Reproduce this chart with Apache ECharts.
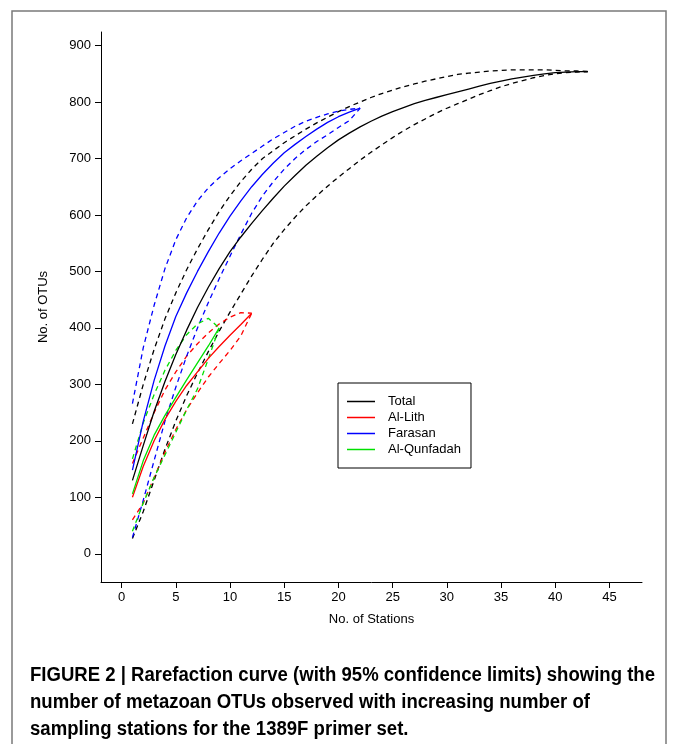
<!DOCTYPE html>
<html lang="en">

<head>
    <meta charset="UTF-8">
    <title>Rarefaction curve</title>
    <script src="https://cdn.jsdelivr.net/npm/echarts@6.0.0/dist/echarts.min.js"></script>
    <style>
        body {
            margin: 0;
            padding: 0;
            background: #fff;
        }

        #main {
            width: 673px;
            height: 744px;
        }
    </style>
</head>

<body>
    <div id="main"></div>

    <script>
        // tick labels
        var xTicks = [0, 5, 10, 15, 20, 25, 30, 35, 40, 45];
        var yTicks = [0, 100, 200, 300, 400, 500, 600, 700, 800, 900];

        // values, one per station starting at station 1
        var totalMean = [130, 192, 252, 305, 353, 396, 436, 472, 505, 535, 561, 585, 608, 630, 651, 670, 688, 704, 719, 733, 745, 756,
            766, 775, 783, 790, 797, 803, 808, 813, 818, 823, 828, 833, 837, 841, 844, 847, 850, 852, 853, 854, 854];
        var totalUpper = [230, 300, 362, 416, 462, 503, 540, 574, 606, 634, 659, 681, 700, 714, 728, 740, 752, 763, 773, 783, 792, 800,
            808, 815, 821, 827, 832, 837, 841, 845, 849, 851, 853, 855, 856, 857, 857, 857, 857, 856, 855, 855, 854];
        var totalLower = [27, 75, 130, 185, 235, 280, 320, 358, 394, 428, 460, 492, 522, 550, 574, 596, 616, 634, 651, 667, 682, 697,
            711, 724, 737, 749, 760, 770, 780, 789, 797, 805, 813, 820, 827, 833, 838, 843, 847, 850, 852, 853, 854];

        var lithMean = [100, 155, 200, 238, 270, 298, 322, 346, 367, 387, 406, 426];
        var lithUpper = [160, 205, 250, 290, 322, 350, 372, 391, 407, 419, 427, 426];
        var lithLower = [60, 90, 135, 180, 220, 255, 285, 313, 337, 360, 386, 426];

        var farasanMean = [148, 235, 307, 368, 420, 462, 500, 535, 568, 598, 625, 650, 672, 692, 710, 725, 739, 752, 764, 774, 782, 789];
        var farasanUpper = [266, 365, 440, 505, 556, 595, 625, 648, 666, 682, 696, 709, 722, 735, 746, 757, 766, 773, 779, 784, 787, 789];
        var farasanLower = [29, 95, 165, 235, 295, 350, 400, 445, 487, 527, 566, 603, 634, 659, 681, 700, 716, 730, 742, 755, 767, 789];

        var qunMean = [106, 165, 210, 245, 277, 308, 338, 368, 400];
        var qunUpper = [168, 232, 282, 325, 360, 388, 407, 417, 400];
        var qunLower = [40, 90, 135, 175, 215, 255, 292, 345, 400];

        var captionLines = [
            'FIGURE 2 | Rarefaction curve (with 95% confidence limits) showing the',
            'number of metazoan OTUs observed with increasing number of',
            'sampling stations for the 1389F primer set.'
        ];

        function toPoints(arr) {
            return arr.map(function (v, i) { return [i + 1, v]; });
        }

        function curve(name, color, values, dashed) {
            return {
                name: name,
                type: 'line',
                data: toPoints(values),
                symbol: 'none',
                silent: true,
                lineStyle: {
                    color: color,
                    width: 1.3,
                    type: dashed ? [5, 4] : 'solid'
                },
                itemStyle: { color: color }
            };
        }

        var groups = [
            ['Total', '#000000', totalMean, totalUpper, totalLower],
            ['Al-Lith', '#ff0000', lithMean, lithUpper, lithLower],
            ['Farasan', '#0000ff', farasanMean, farasanUpper, farasanLower],
            ['Al-Qunfadah', '#00e000', qunMean, qunUpper, qunLower]
        ];

        var series = [];
        groups.forEach(function (g) {
            series.push(curve(g[0] + ' upper', g[1], g[3], true));
            series.push(curve(g[0] + ' lower', g[1], g[4], true));
        });
        groups.forEach(function (g) {
            series.push(curve(g[0], g[1], g[2], false));
        });

        // caption is set in a condensed bold face, so squeeze a normal bold one to the same width
        var captionFont = "bold 20px 'Liberation Sans', Arial, sans-serif";
        var ctx = document.createElement('canvas').getContext('2d');
        ctx.font = captionFont;
        var squeeze = 625 / ctx.measureText(captionLines[0]).width;

        var graphics = [{
            type: 'rect',
            shape: { x: 12, y: 11, width: 654, height: 760 },
            style: { fill: 'none', stroke: '#7a7a7a', lineWidth: 1.5 },
            silent: true
        }];
        captionLines.forEach(function (t, i) {
            graphics.push({
                type: 'text',
                x: 30,
                y: 665 + i * 27,
                scaleX: squeeze,
                style: {
                    text: t,
                    fill: '#000',
                    font: captionFont,
                    verticalAlign: 'top'
                }
            });
        });

        var chartDom = document.getElementById('main');
        var myChart = echarts.init(chartDom, null, { renderer: 'canvas' });

        var axisFont = {
            color: '#000',
            fontSize: 13,
            fontFamily: "'Liberation Sans', Arial, sans-serif"
        };

        var option = {
            animation: false,
            backgroundColor: '#fff',
            grid: {
                left: 101,
                right: 31,
                top: 32,
                bottom: 162
            },
            legend: {
                data: groups.map(function (g) { return g[0]; }),
                orient: 'vertical',
                left: 338,
                top: 383,
                padding: [12, 10, 12, 9],
                icon: 'rect',
                itemWidth: 28,
                itemHeight: 1.5,
                itemGap: 3,
                borderColor: '#000',
                borderWidth: 1,
                selectedMode: false,
                textStyle: {
                    color: '#000',
                    fontSize: 13,
                    fontFamily: "'Liberation Sans', Arial, sans-serif",
                    padding: [0, 0, 0, 8]
                }
            },
            xAxis: {
                type: 'value',
                min: -1.9,
                max: 48,
                name: 'No. of Stations',
                nameLocation: 'middle',
                nameGap: 31,
                nameTextStyle: axisFont,
                axisLine: { show: true, onZero: false, lineStyle: { color: '#000', width: 1 } },
                axisTick: { show: true, length: 6, customValues: xTicks, lineStyle: { color: '#000' } },
                axisLabel: Object.assign({ margin: 9, customValues: xTicks }, axisFont),
                splitLine: { show: false }
            },
            yAxis: {
                type: 'value',
                min: -50,
                max: 924,
                name: 'No. of OTUs',
                nameLocation: 'middle',
                nameGap: 51,
                nameTextStyle: axisFont,
                axisLine: { show: true, onZero: false, lineStyle: { color: '#000', width: 1 } },
                axisTick: { show: true, length: 6, customValues: yTicks, lineStyle: { color: '#000' } },
                axisLabel: Object.assign({ margin: 10, customValues: yTicks }, axisFont),
                splitLine: { show: false }
            },
            graphic: graphics,
            series: series
        };

        option && myChart.setOption(option);
    </script>
</body>

</html>
